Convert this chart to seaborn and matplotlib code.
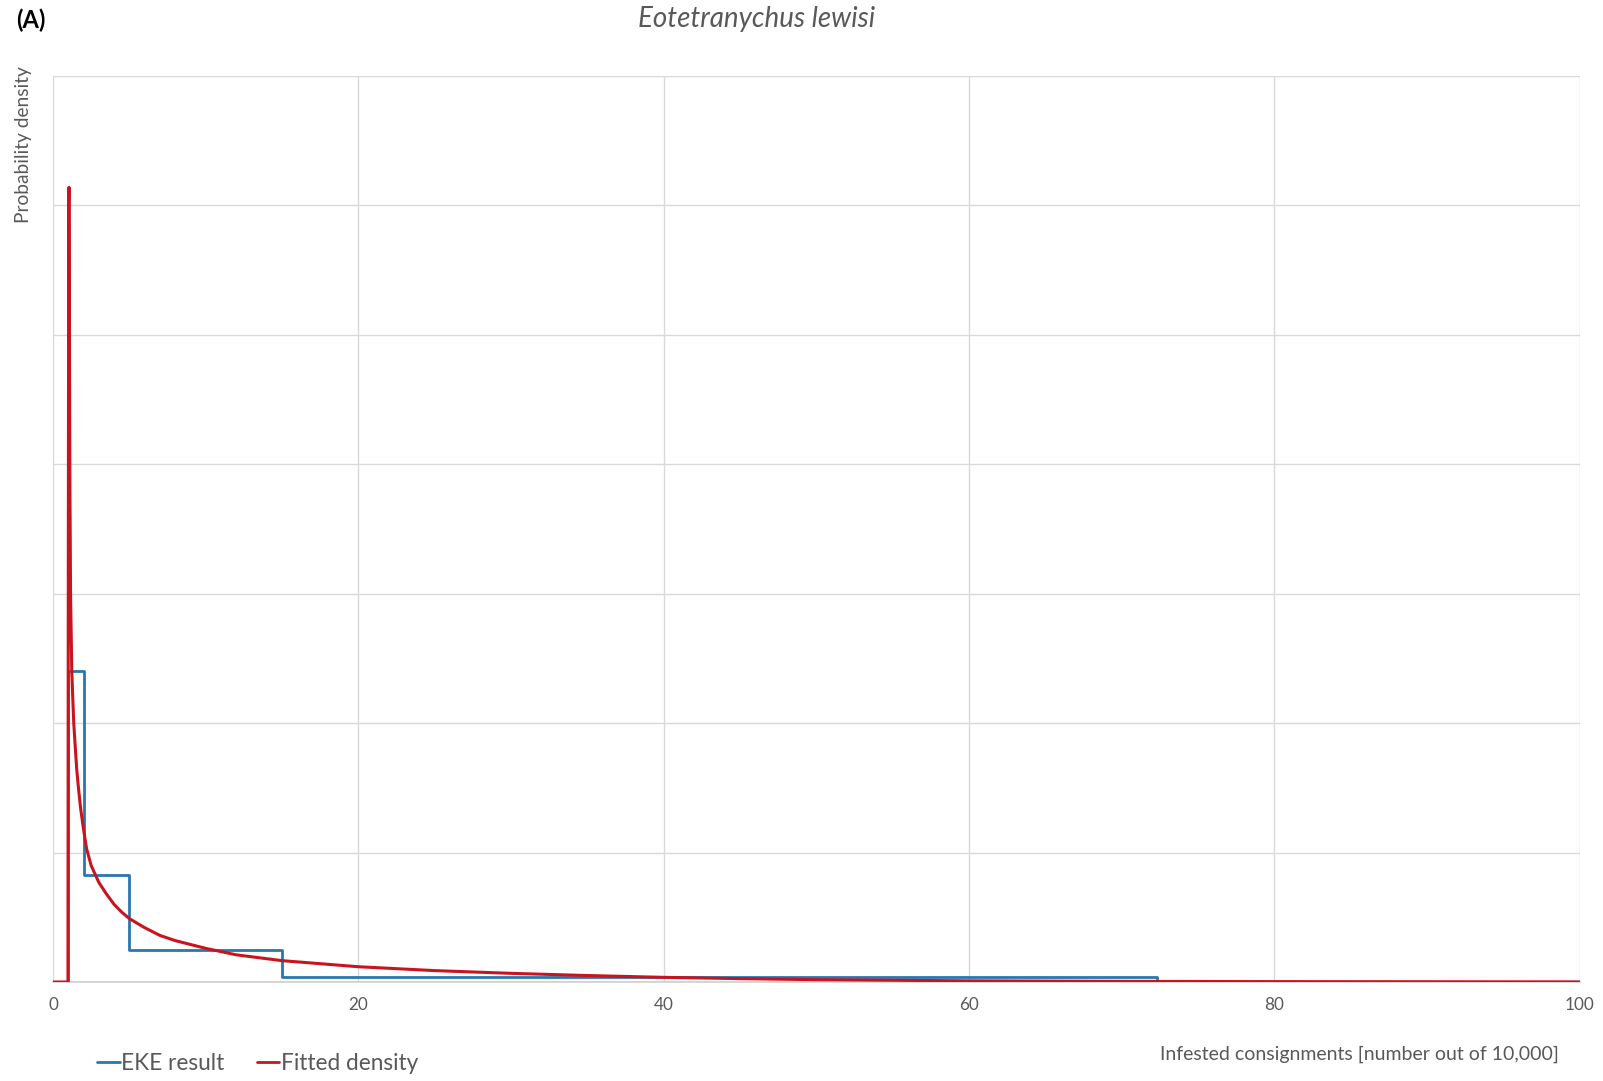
import matplotlib
matplotlib.use("Agg")
import matplotlib.pyplot as plt
import seaborn as sns
import pandas as pd
from matplotlib.lines import Line2D

# ---- data ----
eke_x = [1.0, 1.0, 2.0, 5.0, 15.0, 72.3]
eke_y = [0.0, 0.240, 0.083, 0.025, 0.0041, 0.0]

fit_x = [0.0, 0.98, 1.0, 1.03, 1.05, 1.08, 1.10, 1.15, 1.23, 1.30, 1.36, 1.45, 1.55,
         1.65, 1.8, 2.0, 2.2, 2.5, 2.75, 3.0, 3.5, 4.0, 4.5, 5.0, 6.0, 7.0, 8.0, 10.0,
         12.0, 15.0, 20.0, 25.0, 30.0, 35.0, 40.0, 45.0, 50.0, 60.0, 70.0, 80.0, 90.0,
         100.0]
fit_y = [0.0, 0.0, 0.30, 0.60, 0.614, 0.50, 0.40, 0.30, 0.24, 0.218, 0.20, 0.183, 0.165,
         0.152, 0.135, 0.118, 0.103, 0.090, 0.0835, 0.077, 0.068, 0.060, 0.054, 0.049,
         0.042, 0.036, 0.032, 0.026, 0.021, 0.0165, 0.0118, 0.0088, 0.0067, 0.005,
         0.0036, 0.0026, 0.0018, 0.0009, 0.0005, 0.0003, 0.0002, 0.0001]

x_ticks = [0, 20, 40, 60, 80, 100]
title = "Eotetranychus lewisi"
panel = "(A)"
xlabel = "Infested consignments [number out of 10,000]"
ylabel = "Probability density"
series_names = ["EKE result", "Fitted density"]

BLUE = "#2A77AE"
RED = "#C8141E"
GRID = "#D9D9D9"
TXT = "#595959"

sns.set_theme(style="white")
plt.rcParams["font.family"] = ["Lato", "DejaVu Sans"]

fig = plt.figure(figsize=(16.03, 10.81), dpi=100)
ax = fig.add_axes([53 / 1603, 1 - 982 / 1081, (1579.5 - 53) / 1603, (982 - 76) / 1081])

eke_df = pd.DataFrame({"x": eke_x, "y": eke_y})
fit_df = pd.DataFrame({"x": fit_x, "y": fit_y})

sns.lineplot(data=eke_df, x="x", y="y", ax=ax, color=BLUE, lw=2.0,
             estimator=None, sort=False, drawstyle="steps-post", zorder=3)
sns.lineplot(data=fit_df, x="x", y="y", ax=ax, color=RED, lw=2.2,
             estimator=None, sort=False, zorder=4)

ax.set_xlim(0, 100)
ax.set_ylim(0, 0.7)
ax.set_xticks(x_ticks)
ax.set_xticklabels([str(t) for t in x_ticks], fontsize=12.3, color=TXT)
ax.set_yticks([i * 0.1 for i in range(8)])
ax.set_yticklabels([])
ax.tick_params(axis="both", length=0, pad=11)
ax.grid(True, color=GRID, lw=1.0)
ax.set_axisbelow(True)
for s in ["top", "right", "left"]:
    ax.spines[s].set_visible(False)
ax.spines["bottom"].set_color("#CFCFCF")
ax.spines["bottom"].set_linewidth(1.2)
ax.set_xlabel("")
ax.set_ylabel("")

fig.text(757 / 1603, 1 - 19 / 1081, title, ha="center", va="center",
         fontsize=20, style="italic", color=TXT)
fig.text(16 / 1603, 1 - 20 / 1081, panel, ha="left", va="center",
         fontsize=17, fontweight="bold", color="#000000")
fig.text(24 / 1603, 1 - 145 / 1081, ylabel, ha="center", va="center",
         rotation=90, fontsize=13.8, color=TXT)
fig.text(1559 / 1603, 1 - 1054 / 1081, xlabel, ha="right", va="center",
         fontsize=14, color=TXT)

handles = [Line2D([0], [0], color=BLUE, lw=2), Line2D([0], [0], color=RED, lw=2)]
leg = fig.legend(handles, series_names, loc="center left",
                 bbox_to_anchor=(97 / 1603, 1 - 1063 / 1081), ncol=2, frameon=False,
                 handlelength=1.0, handletextpad=0.05, columnspacing=1.45,
                 fontsize=16.3, borderaxespad=0, borderpad=0)
for t in leg.get_texts():
    t.set_color(TXT)

fig.savefig("out.png", dpi=100)
